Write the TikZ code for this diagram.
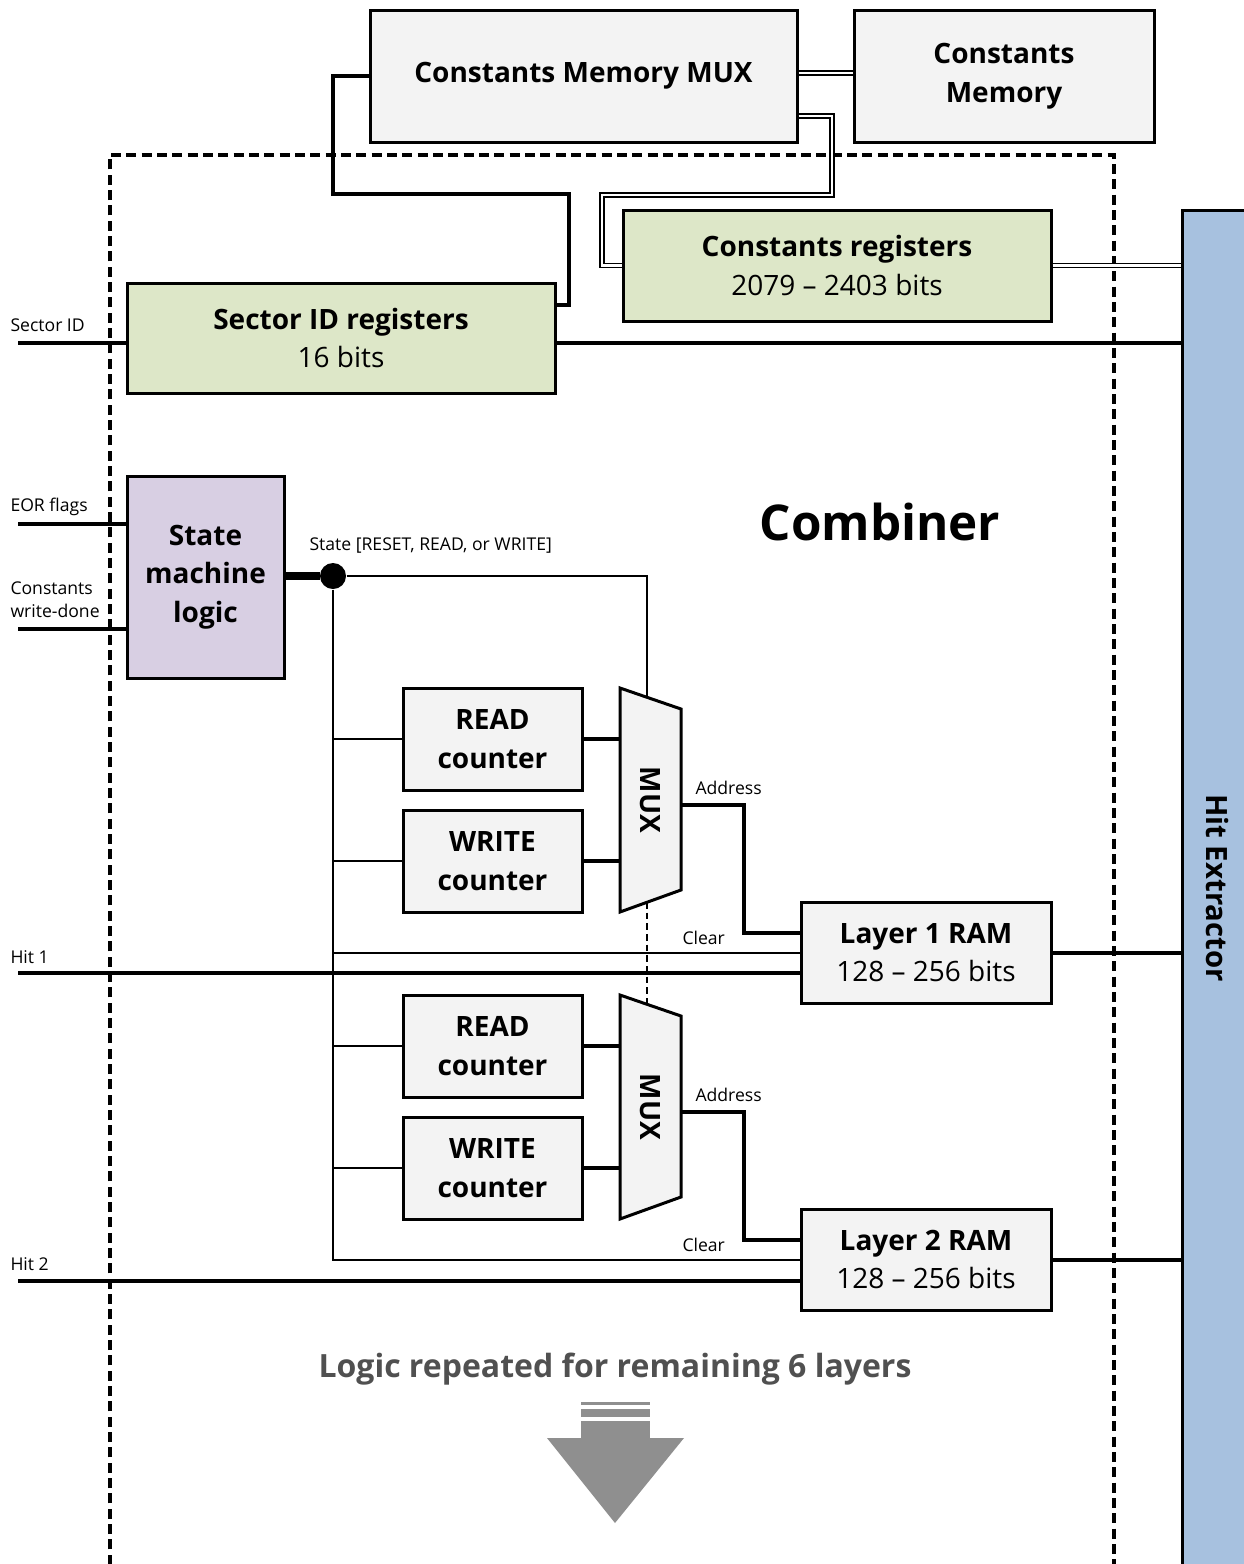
\documentclass[tikz,border=0pt]{standalone}
\usepackage{fontspec}
\setmainfont{Open Sans}

\definecolor{boxfill}{RGB}{243,243,243}
\definecolor{regfill}{RGB}{221,231,200}
\definecolor{fsmfill}{RGB}{216,207,227}
\definecolor{hitfill}{RGB}{167,193,223}
\definecolor{arrowgray}{RGB}{143,143,143}
\definecolor{notegray}{RGB}{80,80,80}

\tikzset{every picture/.style={line width=0.75pt}}
\tikzset{
  blk/.style={draw=black, line width=2.25pt, fill=boxfill, align=center, inner sep=0pt,
    font=\bfseries\fontsize{21}{29}\selectfont},
  regblk/.style={blk, fill=regfill},
  fsmblk/.style={blk, fill=fsmfill},
  muxblk/.style={draw=black, line width=2.25pt, fill=boxfill, line join=miter},
  sig/.style={line width=3pt},
  wire/.style={line width=1.5pt},
  bus/.style={line width=6pt},
  dbl/.style={double, line width=1.1pt, double distance=1.6pt},
  pinlbl/.style={inner sep=0pt, anchor=west, align=left, font=\fontsize{13.2}{17}\selectfont},
  boundary/.style={line width=2.4pt, dash pattern={on 7.5pt off 4pt}},
}

\begin{document}
\begin{tikzpicture}[x=0.75pt,y=0.75pt,yscale=-1,xscale=1]
\useasboundingbox (0,0) rectangle (1244,1564);

%Combiner boundary
\draw [boundary] (110,1580) |- (1114,155) -- (1114,1580);

%Hit extractor
\node [blk, fill=hitfill, minimum width=58.5pt, minimum height=1042.5pt] (hitx) at (1221,905) {};
\node [rotate=-90, font=\bfseries\fontsize{22}{29}\selectfont] (hitlbl) at (1217,888) {Hit Extractor};

%Constants memory blocks
\node [blk, minimum width=320.25pt, minimum height=99pt] (cmux) at (583.5,76) {Constants Memory MUX};
\node [blk, minimum width=225pt, minimum height=99pt] (cmem) at (1004,76) {Constants\\Memory};
\node [regblk, minimum width=321pt, minimum height=83.25pt] (creg) at (837,265.5) {Constants registers\\\mdseries 2079 -- 2403 bits};
\node [regblk, minimum width=321pt, minimum height=82.5pt] (sreg) at (341,338) {Sector ID registers\\\mdseries 16 bits};

\draw [dbl] ([yshift=-2.25pt]cmux.east) -- ([yshift=-2.25pt]cmem.west);
\draw [dbl] ([yshift=30pt]cmux.east) -| (832,195) -| (602,265.5) -- (creg.west);
\draw [dbl] (creg.east) -- (creg.east -| hitx.west);
\draw [sig] (cmux.west) -| (333,194) -| (569,305) -- (sreg.east |- 569,305);

% Sector ID in / out
\coordinate (sidin) at (18,343);
\draw [sig] (sidin) -- (sidin -| sreg.west);
\draw [sig] (sidin -| sreg.east) -- (sidin -| hitx.west);
\node [pinlbl] (sidlbl) at (10,325) {Sector ID};

%State machine
\node [fsmblk, minimum width=117.75pt, minimum height=151.5pt] (fsm) at (205.5,577) {State\\machine\\logic};
\coordinate (eorin) at (18,524);
\coordinate (cwdin) at (18,629);
\draw [sig] (eorin) -- (eorin -| fsm.west);
\draw [sig] (cwdin) -- (cwdin -| fsm.west);
\node [pinlbl] (eorlbl) at (10,507) {EOR flags};
\node [pinlbl] (cwdlbl) at (10,600) {Constants\\write-done};

\node [circle, fill=black, inner sep=0pt, minimum size=19.5pt] (dot) at (333,576) {};
\draw [bus] (fsm.east |- dot) -- (dot);
\node [pinlbl] (statelbl) at (309,546) {State [RESET, READ, or WRITE]};

% Layer 1
\node [blk, minimum width=134.25pt, minimum height=76.5pt] (rd1) at (492.5,739) {READ\\counter};
\node [blk, minimum width=134.25pt, minimum height=76.5pt] (wr1) at (492.5,861) {WRITE\\counter};
\draw [muxblk] (620,688) coordinate (m1tl) -- (681,709) -- (681,890) -- (620,912) -- cycle;
\node [rotate=-90, font=\bfseries\fontsize{21}{29}\selectfont] (mux1) at (650,800) {MUX};
\coordinate (m1sel) at (647,697);
\coordinate (m1bot) at (647,902);
\coordinate (m1out) at (681,805);
\node [blk, minimum width=187.5pt, minimum height=75.75pt] (ram1) at (926,952.5) {Layer 1 RAM\\\mdseries 128 -- 256 bits};

\draw [wire] (dot) -| (m1sel);
\draw [wire] (dot |- rd1.west) -- (rd1.west);
\draw [wire] (dot |- wr1.west) -- (wr1.west);
\draw [wire] (dot |- ram1.west) -- (ram1.west);
\draw [sig] (rd1.east) -- (rd1.east -| m1tl);
\draw [sig] (wr1.east) -- (wr1.east -| m1tl);
\draw [sig] (m1out) -| (744,933) -- (ram1.west |- 744,933);
\draw [sig] (ram1.east) -- (ram1.east -| hitx.west);
\coordinate (hit1in) at (18,973);
\draw [sig] (hit1in) -- (hit1in -| ram1.west);
\node [pinlbl] (hit1lbl) at (10,957) {Hit 1};
\node [pinlbl] (addr1lbl) at (695,788) {Address};
\node [pinlbl] (clr1lbl) at (682,938) {Clear};

% Layer 2
\node [blk, minimum width=134.25pt, minimum height=76.5pt] (rd2) at (492.5,1046) {READ\\counter};
\node [blk, minimum width=134.25pt, minimum height=76.5pt] (wr2) at (492.5,1168) {WRITE\\counter};
\draw [muxblk] (620,995) coordinate (m2tl) -- (681,1016) -- (681,1197) -- (620,1219) -- cycle;
\node [rotate=-90, font=\bfseries\fontsize{21}{29}\selectfont] (mux2) at (650,1107) {MUX};
\coordinate (m2sel) at (647,1004);
\coordinate (m2out) at (681,1112);
\node [blk, minimum width=187.5pt, minimum height=75.75pt] (ram2) at (926,1259.5) {Layer 2 RAM\\\mdseries 128 -- 256 bits};

\draw [wire] (dot) |- (ram2.west);
\draw [wire, dash pattern={on 5pt off 3pt}] (m1bot) -- (m2sel);
\draw [wire] (dot |- rd2.west) -- (rd2.west);
\draw [wire] (dot |- wr2.west) -- (wr2.west);
\draw [sig] (rd2.east) -- (rd2.east -| m2tl);
\draw [sig] (wr2.east) -- (wr2.east -| m2tl);
\draw [sig] (m2out) -| (744,1240) -- (ram2.west |- 744,1240);
\draw [sig] (ram2.east) -- (ram2.east -| hitx.west);
\coordinate (hit2in) at (18,1281);
\draw [sig] (hit2in) -- (hit2in -| ram2.west);
\node [pinlbl] (hit2lbl) at (10,1264) {Hit 2};
\node [pinlbl] (addr2lbl) at (695,1095) {Address};
\node [pinlbl] (clr2lbl) at (682,1245) {Clear};

% Text Node
\node [font=\bfseries\fontsize{37}{46}\selectfont] (combiner) at (880,522) {Combiner};
\node [text=notegray, font=\bfseries\fontsize{24}{28}\selectfont] (replbl) at (615,1369) {Logic repeated for remaining 6 layers};

%Arrow
\fill [arrowgray] (581,1402) rectangle (650,1405);
\fill [arrowgray] (581,1409) rectangle (650,1417);
\fill [arrowgray] (581,1421) rectangle (650,1439);
\fill [arrowgray] (547,1438) -- (684,1438) -- (615,1523) -- cycle;

\end{tikzpicture}
\end{document}
